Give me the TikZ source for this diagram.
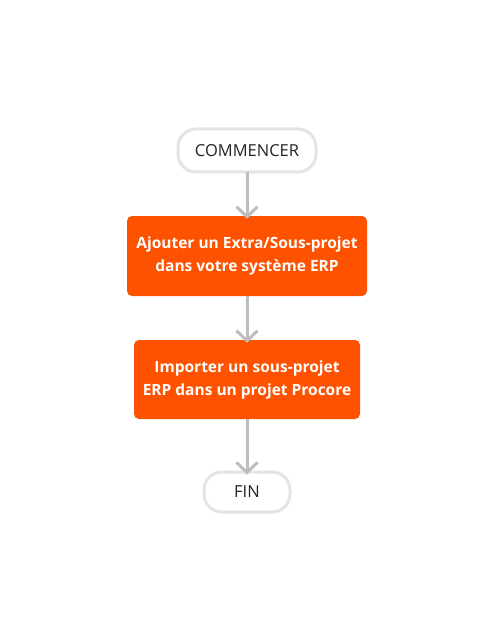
\documentclass[tikz,border=0pt]{standalone}
\usepackage{fontspec}
\setmainfont{Open Sans}
\usetikzlibrary{arrows.meta}
\definecolor{orng}{HTML}{FF5200}
\definecolor{pillborder}{HTML}{E4E4E4}
\definecolor{arrowgrey}{HTML}{BDBDBD}
\definecolor{txtdark}{HTML}{222222}
\tikzset{
  pill/.style={draw=pillborder, line width=3pt, fill=white, rounded corners=18pt,
    text=txtdark, font=\fontsize{16.5}{18}\selectfont, inner sep=0pt},
  stepbox/.style={fill=orng, rounded corners=5pt, text=white, align=center,
    font=\fontsize{15.5}{23}\selectfont\bfseries, inner sep=0pt},
  conn/.style={draw=arrowgrey, line width=3pt, -{Straight Barb[length=10pt,width=21pt,line width=3pt]}}
}
\begin{document}
\begin{tikzpicture}[x=1pt,y=-1pt]
\useasboundingbox (0,0) rectangle (495,644);
\node[pill, minimum width=138pt, minimum height=43pt] (start) at (247,150.5) {COMMENCER};
\node[stepbox, minimum width=240pt, minimum height=80pt] (s1) at (247,256) {Ajouter un Extra/Sous-projet\\dans votre système ERP};
\node[stepbox, minimum width=226pt, minimum height=79pt] (s2) at (247,379.5) {Importer un sous-projet\\ERP dans un projet Procore};
\node[pill, minimum width=86pt, minimum height=40pt] (fin) at (247,492) {FIN};
\draw[conn] (start.south) ++(0,-1.5) -- ([yshift=-3pt]s1.north);
\draw[conn] (s1.south) -- ([yshift=-3pt]s2.north);
\draw[conn] (s2.south) -- ([yshift=-4pt]fin.north);
\end{tikzpicture}
\end{document}
